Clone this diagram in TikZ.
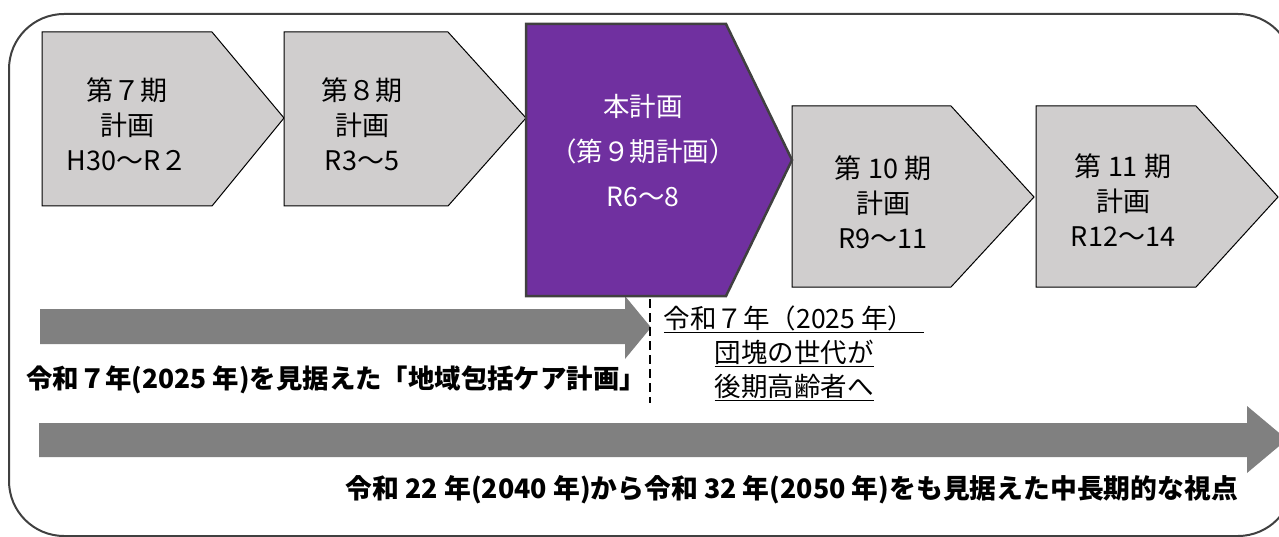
\documentclass[tikz,border=0pt]{standalone}
\usepackage{fontspec}
\setmainfont{Noto Sans CJK JP}
\definecolor{boxgray}{HTML}{D0CECE}
\definecolor{plum}{HTML}{7030A0}
\definecolor{edgegray}{HTML}{404040}
\definecolor{arrowgray}{HTML}{808080}
\begin{document}
\begin{tikzpicture}[x=1pt,y=-1pt,
  chev/.style={fill=boxgray,draw=black,line width=1pt,line join=miter},
  curchev/.style={fill=plum,draw=edgegray,line width=2.5pt,line join=miter},
  bigarrow/.style={fill=arrowgray,draw=none},
  frame/.style={draw=edgegray,line width=2pt,rounded corners=55pt},
  boxtext/.style={align=center,inner sep=0pt,font=\fontsize{27}{35}\selectfont},
  curtext/.style={align=center,inner sep=0pt,text=white,font=\fontsize{26.5}{45}\selectfont},
  notetext/.style={align=center,inner sep=0pt,font=\fontsize{26.5}{34}\selectfont},
  captext/.style={inner sep=0pt,font=\bfseries\fontsize{26.8}{30}\selectfont},
  mark2025/.style={draw=black,line width=1.5pt,dash pattern=on 9pt off 5pt}]
\useasboundingbox (0,0) rectangle (1279,537);
% outer frame
\draw[frame] (9,14) rectangle (1293,536);
% arrows
\fill[bigarrow] (40,309) -- (625,309) -- (625,296) -- (651,327.5) -- (625,359) -- (625,344) -- (40,344) -- cycle;
\fill[bigarrow] (39,423) -- (1247,423) -- (1247,406) -- (1287,439.5) -- (1247,473) -- (1247,457) -- (39,457) -- cycle;
% chevrons
\draw[chev] (42,32) -- (212,32) -- (284,118) -- (212,206) -- (42,206) -- cycle;
\draw[chev] (284,32) -- (448,32) -- (526,118) -- (448,206) -- (284,206) -- cycle;
\draw[chev] (792,106) -- (951,106) -- (1034,197) -- (951,287) -- (792,287) -- cycle;
\draw[chev] (1036,106) -- (1196,106) -- (1278,197) -- (1196,287) -- (1036,287) -- cycle;
\draw[curchev] (526,24) -- (726,24) -- (792,160) -- (726,296) -- (526,296) -- cycle;
% texts in chevrons
\node[boxtext] (p7) at (127,124.5) {第７期\\計画\\H30～R２};
\node[boxtext] (p8) at (362,124.5) {第８期\\計画\\R3～5};
\node[curtext] (p9) at (643,150.5) {本計画\\（第９期計画）\\R6～8};
\node[boxtext] (p10) at (883,202.5) {第 10 期\\計画\\R9～11};
\node[boxtext] (p11) at (1123,200.5) {第 11 期\\計画\\R12～14};
% 2025 mark
\coordinate (mtop) at (650,299);
\coordinate (mbot) at (650,403);
\draw[mark2025] (mtop) -- (mbot);
\node[notetext] (note) at (794,353) {\underline{令和７年（2025 年）\hspace{10pt}}\\\underline{団塊の世代が}\\\underline{後期高齢者へ}};
% captions
\node[captext,anchor=east,font=\bfseries\fontsize{26.4}{30}\selectfont] (cap1) at (646,380) {令和７年(2025 年)を見据えた「地域包括ケア計画」};
\node[captext,anchor=east] (cap2) at (1238,490) {令和 22 年(2040 年)から令和 32 年(2050 年)をも見据えた中長期的な視点};
\end{tikzpicture}
\end{document}
